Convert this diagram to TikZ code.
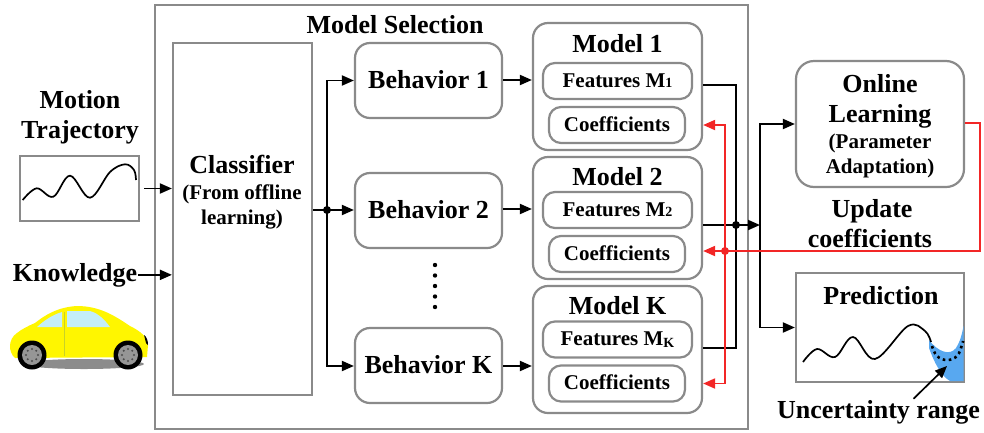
\documentclass[tikz,border=0pt]{standalone}
\usepackage{fontspec}
\setmainfont{Liberation Serif}
\usetikzlibrary{arrows.meta}
\definecolor{edgegray}{RGB}{138,138,138}
\definecolor{fbred}{RGB}{242,38,38}
\definecolor{rangeblue}{RGB}{88,168,240}
\definecolor{carbody}{RGB}{255,246,0}
\definecolor{glass}{RGB}{196,238,248}
\definecolor{hubgray}{RGB}{150,150,150}
\definecolor{doorline}{RGB}{200,210,40}

\tikzset{
  bigtxt/.style={font=\fontsize{26}{30}\selectfont\bfseries},
  smalltxt/.style={font=\fontsize{21}{25}\selectfont\bfseries},
  txt/.style={inner sep=1pt, anchor=base},
  frame/.style={draw=edgegray, line width=2.2pt, inner sep=0pt},
  roundbox/.style={frame, rounded corners=15pt, bigtxt, text height=15pt, text depth=0pt},
  pill/.style={frame, rounded corners=12pt, smalltxt, text height=12pt, text depth=0pt,
               minimum height=36pt},
  wire/.style={line width=1.9pt},
  arr/.style={wire, -{Triangle[length=12pt,width=10pt]}},
  joint/.style={circle, fill, inner sep=0pt, minimum size=8pt},
}

\newcommand{\subsmall}[1]{{\fontsize{14}{14}\selectfont #1}}

\begin{document}
\begin{tikzpicture}[x=1pt,y=-1pt]
\useasboundingbox (0,0) rectangle (984,432);

% ---------- model selection frame ----------
\node[frame, minimum width=593pt, minimum height=424pt] (sel) at (451.5,217) {};
\node[txt, bigtxt] (seltitle) at (395,33) {Model Selection};

% classifier
\node[frame, minimum width=139pt, minimum height=352pt] (cls) at (242.5,219) {};
\node[txt, bigtxt] (clsA) at (242,173) {Classifier};
\node[txt, smalltxt] (clsB) at (242,199) {(From offline};
\node[txt, smalltxt] (clsC) at (242,224) {learning)};

% behaviours
\node[roundbox, minimum width=147pt, minimum height=75pt] (b1) at (428.5,80.5) {Behavior 1};
\node[roundbox, minimum width=147pt, minimum height=75pt] (b2) at (428.5,210.5) {Behavior 2};
\node[roundbox, minimum width=147pt, minimum height=75pt] (bk) at (428.5,365.5) {Behavior K};
\foreach \yy in {265,275.5,286,296.5,307}
  \fill (435,\yy) circle[radius=2.2pt];

% models
\node[frame, rounded corners=15pt, minimum width=169pt, minimum height=127pt] (m1) at (617.5,86.5) {};
\node[frame, rounded corners=15pt, minimum width=169pt, minimum height=122pt] (m2) at (617.5,218) {};
\node[frame, rounded corners=15pt, minimum width=169pt, minimum height=127pt] (mk) at (617.5,349.5) {};
\node[txt, bigtxt] (m1t) at (617.5,52) {Model 1};
\node[txt, bigtxt] (m2t) at (617.5,185) {Model 2};
\node[txt, bigtxt] (mkt) at (617.5,314) {Model K};

\node[pill, minimum width=149pt] (f1) at (617.5,81) {Features M\subsmall{1}};
\node[pill, minimum width=149pt] (f2) at (617.5,210) {Features M\subsmall{2}};
\node[pill, minimum width=149pt] (fk) at (617.5,339.5) {Features M\raisebox{-1.5pt}{\subsmall{K}}};
\node[pill, minimum width=136pt] (c1) at (617,125) {Coefficients};
\node[pill, minimum width=136pt] (c2) at (617,254) {Coefficients};
\node[pill, minimum width=136pt] (ck) at (617,383.5) {Coefficients};

% classifier fan-out
\node[joint] (jc) at (327,210) {};
\draw[wire] (cls.east |- jc) -- (jc.center);
\draw[arr] (jc.center) -- (b2.west |- jc);
\draw[arr] (jc.center) |- (b1.west);
\draw[arr] (jc.center) |- (bk.west |- 0,366);

% behaviour -> model
\draw[arr] (b1.east |- 0,80) -- (m1.west |- 0,80);
\draw[arr] (b2.east |- 0,209) -- (m2.west |- 0,209);
\draw[arr] (bk.east |- 0,366) -- (mk.west |- 0,366);

% ---------- right column ----------
\node[frame, rounded corners=18pt, minimum width=168pt, minimum height=126pt] (ol) at (880,124) {};
\node[txt, bigtxt] (olA) at (880,92) {Online};
\node[txt, bigtxt] (olB) at (880,122) {Learning};
\node[txt, smalltxt] (olC) at (880,148) {(Parameter};
\node[txt, smalltxt] (olD) at (880,173) {Adaptation)};

\node[frame, minimum width=168pt, minimum height=109pt] (pred) at (880,327.5) {};
\node[txt, bigtxt] (predt) at (881,304) {Prediction};

\node[txt, bigtxt] (upA) at (872,217) {Update};
\node[txt, bigtxt] (upB) at (870,247) {coefficients};

% model outputs to the bus
\node[joint] (jb) at (736,225) {};
\coordinate (tap) at (760,225);
\draw[wire] (m1.east |- 0,85) -| (jb.center);
\draw[wire] (mk.east |- 0,348) -| (jb.center);
\draw[arr] (m2.east |- jb) -- (tap);
\draw[arr] (tap) |- (ol.west);
\draw[arr] (tap) |- (pred.west);

% coefficient feedback
\node[joint, fill=fbred] (jr) at (725,251) {};
\coordinate (rr) at (980,251);
\draw[wire, fbred] (ol.east |- 0,123) -| (rr) -- (jr.center);
\draw[arr, fbred] (jr.center) -- (m2.east |- jr);
\draw[arr, fbred] (jr.center) |- (m1.east |- c1);
\draw[arr, fbred] (jr.center) |- (mk.east |- ck);

% prediction sketch
\fill[rangeblue] (929,340) .. controls (938,352) and (950,356) .. (956,348)
  .. controls (960,342) and (962,334) .. (963.5,326) -- (963.5,381)
  -- (950,381) .. controls (941,376) and (934,362) .. (929,348) -- cycle;
\draw[line width=1.7pt] plot[smooth, tension=0.6] coordinates
  {(803,362) (817,349) (835,357) (853,337) (875,359) (908,326) (925,331) (931,342)};
\draw[line width=2.6pt, dash pattern=on 2.6pt off 3.4pt] plot[smooth, tension=0.7] coordinates
  {(932,346) (937,356) (947,360) (957,356) (962,345) (963,341)};
\node[txt, bigtxt] (unc) at (878.5,418) {Uncertainty range};
\coordinate (tipU) at (947,366);
\draw[arr, line width=1.7pt] ([xshift=35pt]unc.north) -- (tipU);

% ---------- left column ----------
\node[txt, bigtxt] (motA) at (80,108) {Motion};
\node[txt, bigtxt] (motB) at (80,138) {Trajectory};
\node[frame, minimum width=119pt, minimum height=65pt] (traj) at (79.5,188.5) {};
\draw[line width=1.7pt] plot[smooth, tension=0.6] coordinates
  {(22.7,200) (36.7,188.3) (53.3,196.7) (70,175.7) (90,197.7) (110,172) (125,164.3) (134,170) (136,180)};
\draw[arr] ([xshift=4pt]traj.east) -- (cls.west |- traj.east);

\node[txt, bigtxt] (know) at (75,281) {Knowledge};
\draw[arr] (know.east) -- (cls.west |- know.east);

% car
\fill[black!45] (84,364) ellipse[x radius=60pt, y radius=5pt];
\fill[carbody] (15,358) .. controls (8,352) and (8,339) .. (17,333)
  .. controls (22,329) and (28,326) .. (35,323)
  .. controls (45,315) and (58,307) .. (77,306)
  .. controls (100,306) and (115,316) .. (130,326)
  .. controls (140,331) and (148,337) .. (148,345) -- (147,357) -- cycle;
\fill[black] (144,335) .. controls (147,337) and (148,341) .. (148,345) -- (146,343) -- cycle;
\fill[glass] (37,327) .. controls (45,320) and (52,315) .. (62,312) -- (62,327) -- cycle;
\fill[glass] (67,311) -- (90,311) .. controls (98,313) and (105,320) .. (110,327) -- (67,327) -- cycle;
\draw[doorline, line width=0.9pt] (64,312) -- (64,356);
\foreach \cx in {32,128} {
  \fill[black] (\cx,355) circle[radius=14.5pt];
  \fill[hubgray] (\cx,355) circle[radius=10pt];
  \foreach \a in {0,45,...,315}
    \fill[black!70] ([shift={(\a:6pt)}]\cx,355) circle[radius=1.2pt];
}
\end{tikzpicture}
\end{document}
